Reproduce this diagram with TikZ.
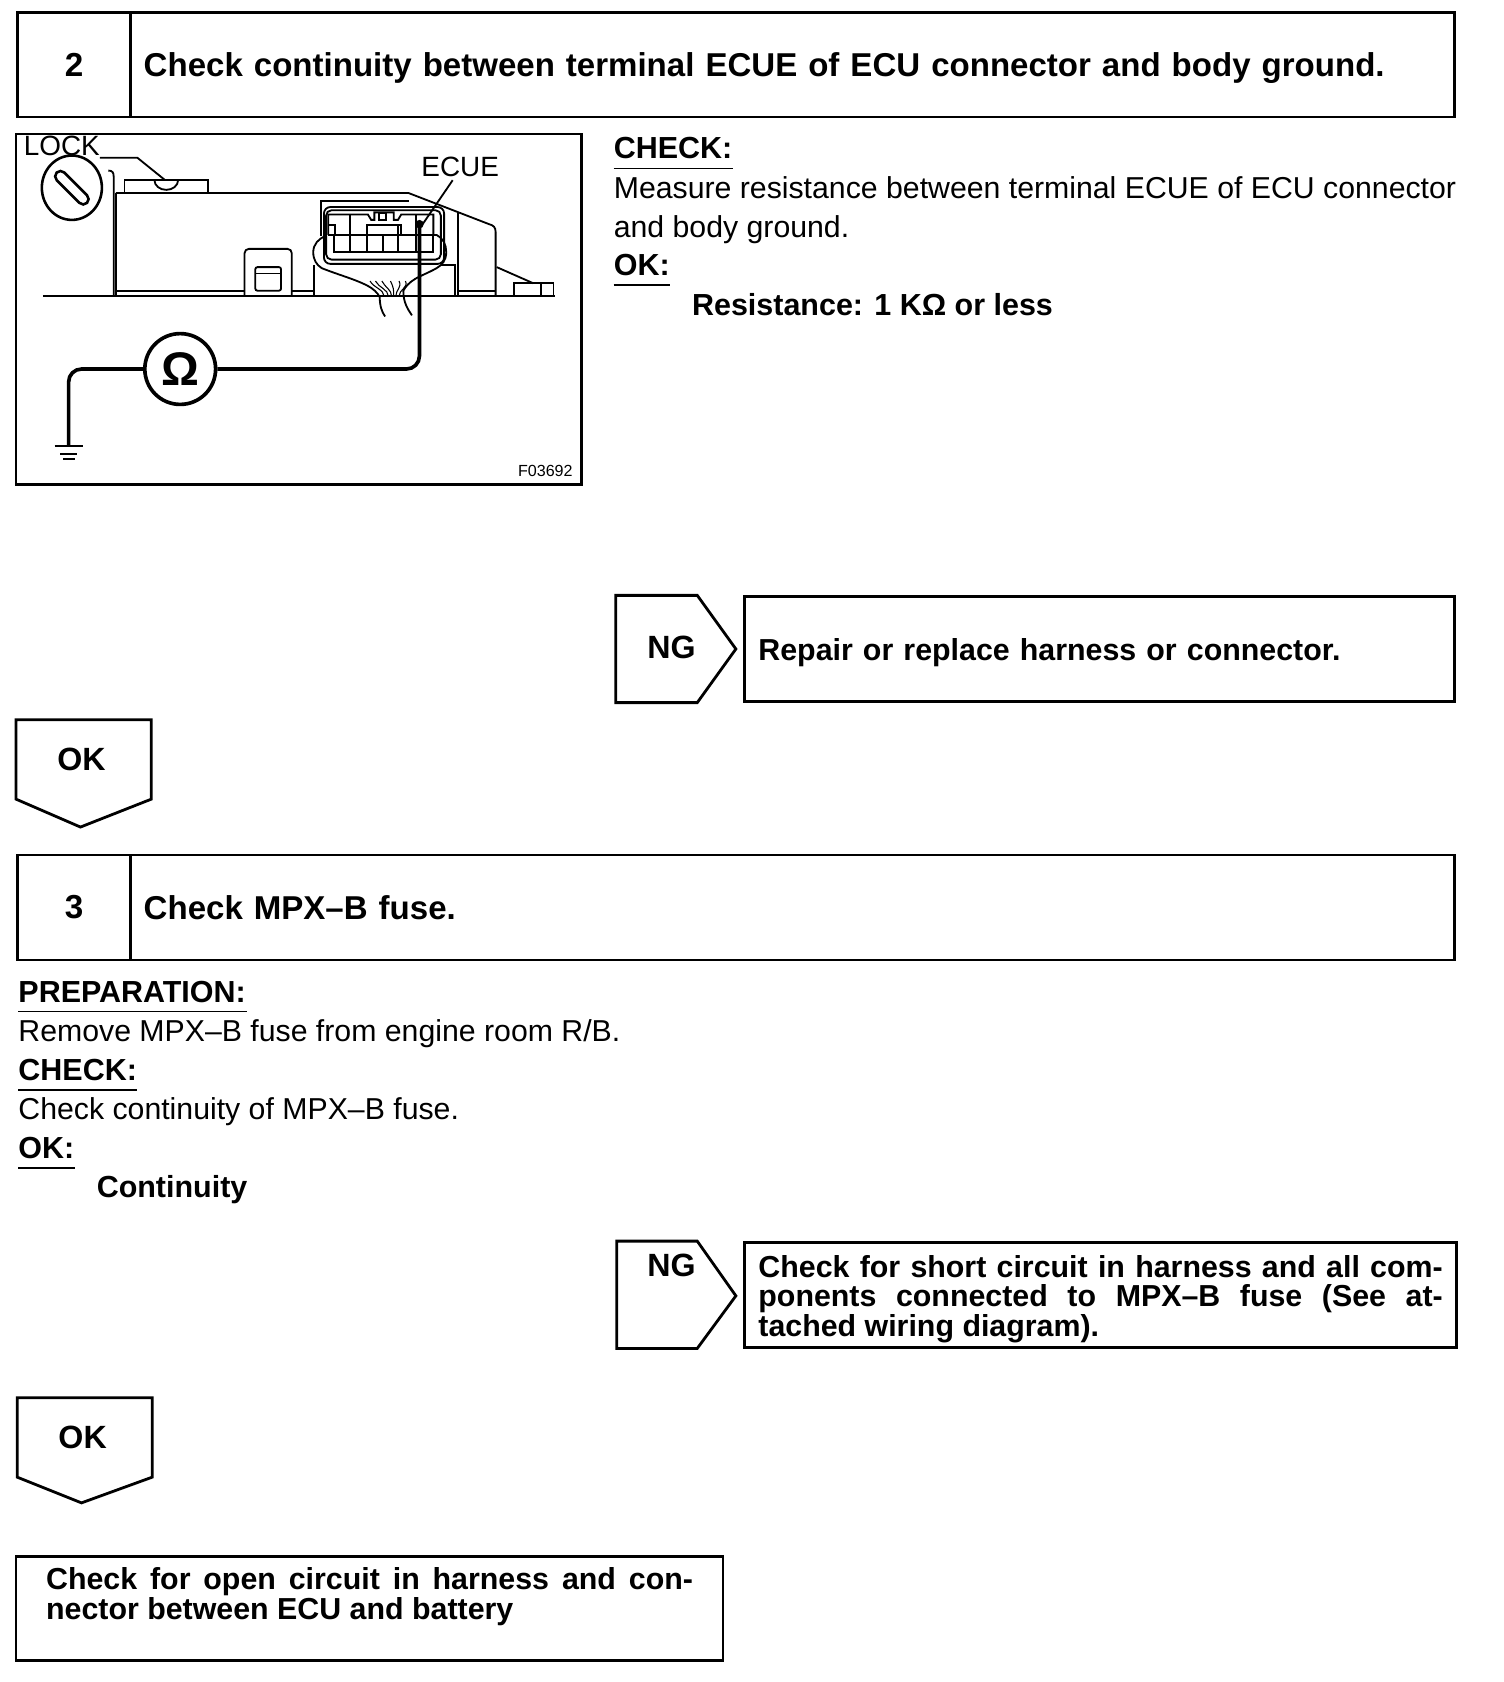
\documentclass[tikz,border=0pt]{standalone}
\usepackage{fontspec}
\setmainfont{Liberation Sans}
\usetikzlibrary{arrows.meta,positioning,calc,shapes.geometric}
\tikzset{
  frm/.style={draw,line width=2.6pt,line join=miter,outer sep=0pt},
  thn/.style={draw,line width=1.7pt},
  wre/.style={draw,line width=3.4pt,rounded corners=12pt},
  numbox/.style={frm,anchor=north west,inner sep=0pt,minimum width=106pt,minimum height=97pt,font=\fontsize{31}{33}\selectfont\bfseries},
  ttlbox/.style={frm,anchor=west,inner xsep=12pt,inner ysep=0pt,minimum height=97pt,text height=22pt,text depth=0pt,font=\fontsize{30.8}{33}\selectfont\bfseries,align=left},
  txt/.style={anchor=base west,inner sep=0pt,font=\fontsize{28.2}{30}\selectfont},
  btxt/.style={anchor=base west,inner sep=0pt,font=\fontsize{28.4}{30}\selectfont\bfseries},
  mrk/.style={inner sep=0pt,font=\fontsize{30}{32}\selectfont\bfseries},
  lbl/.style={inner sep=0pt,font=\fontsize{26}{28}\selectfont},
  resbox/.style={frm,anchor=north west,inner xsep=13pt,inner ysep=0pt,text height=28pt,font=\fontsize{28.3}{27.5}\selectfont\bfseries,align=justify},
}
\begin{document}
\begin{tikzpicture}[x=1pt,y=-1pt]
 \useasboundingbox (0,0) rectangle (1402,1568);
 % step 2
 \node[numbox] (numA) at (16,12) {2};
 \node[ttlbox,right=0pt of numA,minimum width=1234pt,text width=1210pt] (ttlA) {Check continuity between terminal ECUE of ECU connector and body ground.};
 % figure
 \draw[frm] (15,125) rectangle (542,452);
 \node[lbl,anchor=west] (lock) at (22,136) {LOCK};
 \node[lbl] (ecue) at (429,156) {ECUE};
 \node[inner sep=0pt,anchor=east,font=\fontsize{15}{16}\selectfont] (figno) at (534,439) {F03692};
 \draw[thn,line width=2.4pt] (67,175) ellipse (28 and 30);
 \draw[thn,line width=2.4pt,rounded corners=5pt,rotate around={-45:(67,175)}] (47,170) rectangle (87,180);
 % body of the unit
 \draw[thn] (40,276) -- (517,276);
 \draw[thn] (101,159) .. controls (105,159) and (106,161) .. (106,165) -- (106,276);
 \draw[thn] (108,180) -- (108,276);
 \draw[thn] (108,180) -- (381,180) -- (456,209) .. controls (460,210) and (462,212) .. (462,216) -- (462,276);
 \draw[thn] (116,180) -- (116,168) -- (194,168) -- (194,180);
 \draw[thn] (144,168) arc (180:0:11 and 9);
 \draw[thn] (93,147) -- (128,147) -- (154,168);
 \draw[thn] (108,271) -- (228,271);
 \draw[thn,rounded corners=4pt] (228,276) -- (228,232) -- (272,232) -- (272,276);
 \draw[thn,rounded corners=2pt] (238,271) -- (238,249) -- (262,249) -- (262,271) -- cycle;
 \draw[thn] (238,255) -- (262,255);
 \draw[thn] (272,271) -- (293,271);
 % connector
 \draw[thn] (299,220) -- (299,187) -- (381,187);
 \draw[thn,rounded corners=6pt] (302,193) rectangle (414,246);
 \draw[thn,rounded corners=5pt] (304,196) rectangle (411,242);
 \draw[thn] (306,219) -- (306,200) -- (343,200) -- (346,205) -- (349,205) -- (349,198) -- (367,198) -- (367,205) -- (371,205) -- (374,200) -- (404,200) -- (404,219);
 \draw[thn] (353,199) rectangle (360,205);
 \draw[thn] (342,219) -- (342,210) -- (374,210) -- (374,219);
 \draw[thn] (311,219) -- (311,235) -- (404,235) -- (404,219);
 \draw[thn] (306,219) -- (407,219);
 \draw[thn] (306,210) -- (312,210) -- (312,218);
 \foreach \xx/\yy in {326/200,342/210,357/219,371/210,388/200}{
   \draw[thn] (\xx,\yy) -- (\xx,235);
 }
 % harness
 \draw[thn] (304,220) .. controls (297,222) and (292,228) .. (292,235) .. controls (292,242) and (295,247) .. (300,250) .. controls (315,256) and (330,260) .. (342,266) .. controls (348,269) and (352,273) .. (354,277) .. controls (354,285) and (356,291) .. (359,295);
 \draw[thn] (407,219) .. controls (413,222) and (416,228) .. (416,235) .. controls (416,243) and (412,247) .. (407,250) .. controls (400,254) and (392,257) .. (387,260) .. controls (382,263) and (378,267) .. (376,271) .. controls (376,282) and (380,288) .. (384,294);
 \foreach \xa/\xb in {345/358,350/362,356/365,364/367,372/369,378/372}{
   \draw[thn,line width=1pt] (\xa,262) .. controls (\xa+3,268) and (\xb,270) .. (\xb,276);
 }
 \draw[thn] (293,247) -- (293,276);
 \draw[thn] (411,247) -- (424,247) -- (424,276);
 \draw[thn] (427,199) -- (427,276);
 \draw[thn] (427,271) -- (462,271);
 \draw[thn] (463,249) -- (497,264);
 \draw[thn] (479,264) rectangle (516,276);
 \draw[thn] (504,264) -- (504,276);
 \draw[thn] (422,168) -- (394,209);
 % meter and wires
 \node[draw,circle,line width=3.4pt,minimum size=66pt,inner sep=0pt,font=\fontsize{44}{44}\selectfont\bfseries] (ohm) at (168,344) {Ω};
 \coordinate (gnd) at (64,416);
 \coordinate (prb) at (391,209);
 \draw[wre] (gnd) |- (ohm.west);
 \draw[wre] (ohm.east) -| (prb);
 \fill (prb) circle (4);
 \draw[thn,line width=2pt] (51,416) -- (77,416);
 \draw[thn,line width=2pt] (56,423) -- (72,423);
 \draw[thn,line width=2pt] (59,428) -- (70,428);
 % texts of step 2
 \node[btxt] (chkA) at (572,148) {CHECK:};
 \node[txt] (mesA) at (572,185) {Measure resistance between terminal ECUE of ECU connector};
 \node[txt] (mesB) at (572,221) {and body ground.};
 \node[btxt] (okA) at (572,257) {OK:};
 \node[btxt] (resA) at (645,294) {Resistance: 1 KΩ or less};
 \foreach \xa/\xb/\yy in {572/683/157,572/625/266,17/230/943,17/128/1016,17/70/1089}{
   \draw[thn,line width=1.6pt] (\xa,\yy) -- (\xb,\yy);
 }
 % NG 1
 \draw[frm] (574,555) -- (650,555) -- (686,605) -- (650,655) -- (574,655) -- cycle;
 \node[mrk] (ngA) at (626,604) {NG};
 \node[resbox,minimum width=662pt,minimum height=98pt,text width=636pt,text height=21pt,text depth=0pt,align=left] (fixA) at (694,556) {Repair or replace harness or connector.};
 % OK 1
 \draw[frm] (15,671) -- (141,671) -- (141,745) -- (75,771) -- (15,745) -- cycle;
 \node[mrk] (okB) at (76,708) {OK};
 % step 3
 \node[numbox,minimum height=98pt] (numB) at (16,797) {3};
 \node[ttlbox,right=0pt of numB,minimum height=98pt,minimum width=1234pt,text width=1210pt] (ttlB) {Check MPX--B fuse.};
 \node[btxt] (prpA) at (17,935) {PREPARATION:};
 \node[txt] (rmvA) at (17,971) {Remove MPX--B fuse from engine room R/B.};
 \node[btxt] (chkB) at (17,1007) {CHECK:};
 \node[txt] (chkC) at (17,1044) {Check continuity of MPX--B fuse.};
 \node[btxt] (okC) at (17,1080) {OK:};
 \node[btxt] (cntA) at (90,1116) {Continuity};
 % NG 2
 \draw[frm] (575,1157) -- (650,1157) -- (686,1208) -- (650,1257) -- (575,1257) -- cycle;
 \node[mrk] (ngB) at (626,1180) {NG};
 \node[resbox,minimum width=663pt,minimum height=98pt,text width=638pt] (fixB) at (694,1158) {Check for short circuit in harness and all com-\linebreak ponents connected to MPX--B fuse (See at-\linebreak tached wiring diagram).};
 % OK 2
 \draw[frm] (16,1303) -- (142,1303) -- (142,1377) -- (76,1401) -- (16,1377) -- cycle;
 \node[mrk] (okD) at (77,1340) {OK};
 % last box
 \node[resbox,inner xsep=28pt,minimum width=659pt,minimum height=97pt,text width=603pt] (lastA) at (15,1451) {Check for open circuit in harness and con-\linebreak nector between ECU and battery\\\strut};
\end{tikzpicture}
\end{document}
